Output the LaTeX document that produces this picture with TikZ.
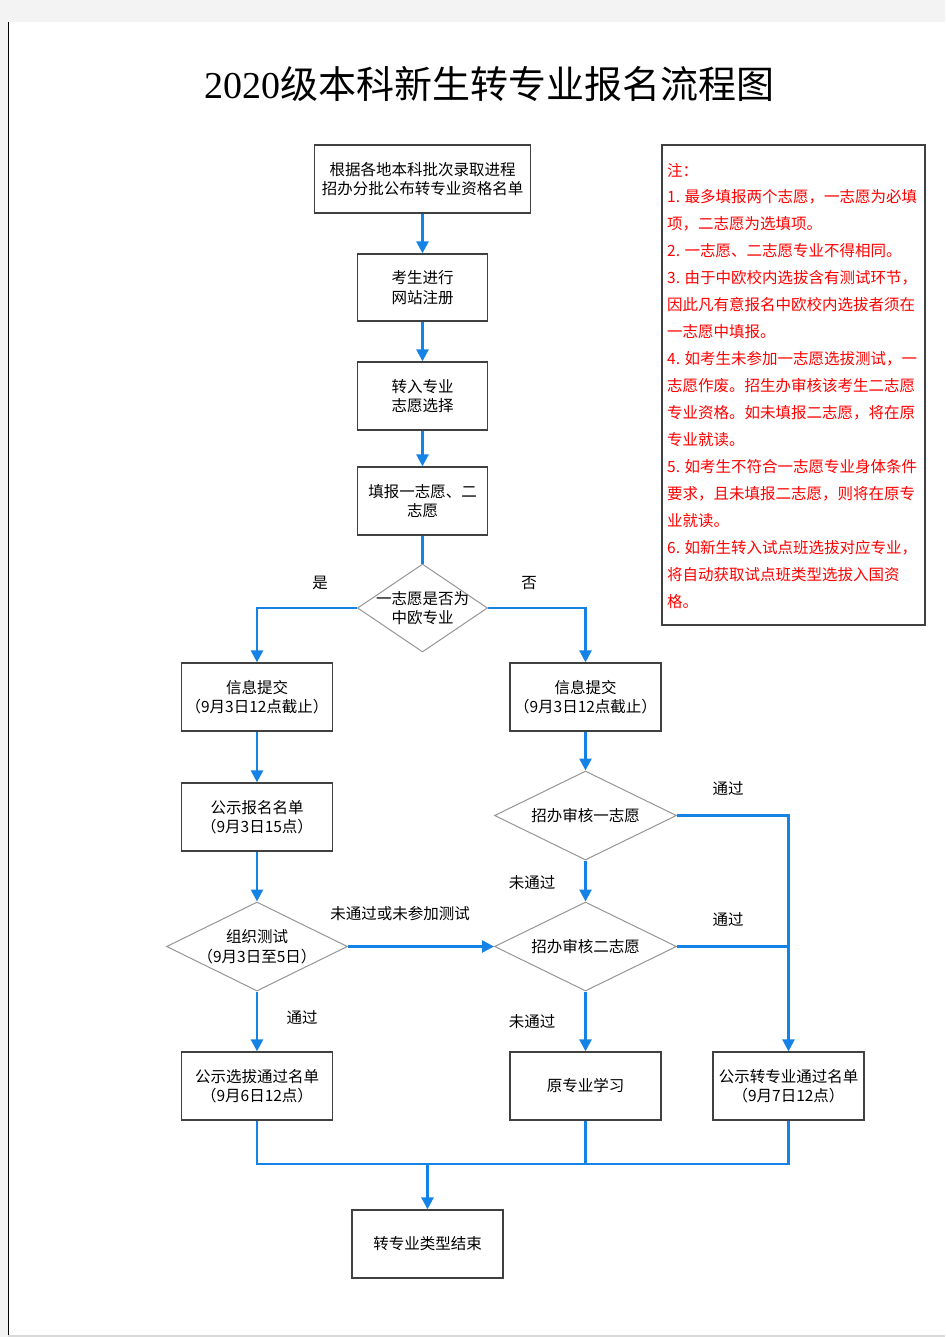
\documentclass[tikz,border=0pt]{standalone}
\usepackage{fontspec}
\newfontfamily\cjk{Noto Sans CJK SC}
\newfontfamily\titleserif{Liberation Serif}
\usetikzlibrary{arrows.meta,shapes.geometric}
\definecolor{flowblue}{RGB}{21,131,230}
\definecolor{boxline}{RGB}{64,64,64}
\definecolor{dialine}{RGB}{150,150,150}
\definecolor{pagegray}{RGB}{243,243,243}
\definecolor{notered}{RGB}{255,0,0}
\begin{document}
\begin{tikzpicture}[x=1pt,y=-1pt,
  box/.style={draw=boxline,line width=1.3pt,fill=white,inner sep=0pt,align=center,
    font=\cjk\fontsize{15.5}{19.5}\selectfont,minimum width=150pt,minimum height=68pt},
  dia/.style={draw=dialine,line width=1pt,shape=diamond,inner sep=0pt,fill=white},
  dtext/.style={align=center,inner sep=0pt,font=\cjk\fontsize{15.5}{19.5}\selectfont},
  arr/.style={draw=flowblue,line width=2.6pt,-{Triangle[length=12pt,width=12pt]}},
  lin/.style={draw=flowblue,line width=2.6pt},
  lbl/.style={inner sep=0pt,font=\cjk\fontsize{15.5}{19}\selectfont},
  notetext/.style={anchor=west,inner sep=0pt,text=notered,font=\cjk\fontsize{15.5}{19}\selectfont}
]
\useasboundingbox (0,0) rectangle (945,1337);
\fill[pagegray] (0,0) rectangle (945,1337);
\fill[white] (8,22) rectangle (945,1335);
\draw[black,line width=1.2pt] (8.5,22) -- (8.5,1337);
\draw[black!15,line width=1.5pt] (8,1336) -- (945,1336);

% title
\node[inner sep=0pt] (title) at (489,84) {\titleserif\fontsize{38}{42}\selectfont 2020\cjk 级本科新生转专业报名流程图};

% boxes
\node[box,minimum width=216pt] (A) at (422.5,179) {根据各地本科批次录取进程\\招办分批公布转专业资格名单};
\node[box,minimum width=130pt,minimum height=67pt] (B) at (422.5,287.5) {考生进行\\网站注册};
\node[box,minimum width=130pt] (C) at (422.5,396) {转入专业\\志愿选择};
\node[box,minimum width=130pt] (D) at (422.5,501) {填报一志愿、二\\志愿};
\node[dia,minimum width=130pt,minimum height=88pt,label={[dtext]center:一志愿是否为\\中欧专业}] (E) at (422.5,608) {};
\node[box,minimum width=151pt] (F) at (257,697) {信息提交\\（9月3日12点截止）};
\node[box,minimum width=151pt] (G) at (585.5,697) {信息提交\\（9月3日12点截止）};
\node[box,minimum width=151pt] (H) at (257,817) {公示报名名单\\（9月3日15点）};
\node[dia,minimum width=182pt,minimum height=89pt,label={[dtext]center:招办审核一志愿}] (I) at (585.5,815.5) {};
\node[dia,minimum width=182pt,minimum height=89pt,label={[dtext]center:招办审核二志愿}] (J) at (585.5,946.5) {};
\node[dia,minimum width=181pt,minimum height=89pt,label={[dtext]center:组织测试\\（9月3日至5日）}] (K) at (257,946.5) {};
\node[box,minimum width=151pt] (L) at (257,1086) {公示选拔通过名单\\（9月6日12点）};
\node[box,minimum width=151pt] (M) at (585.5,1086) {原专业学习};
\node[box,minimum width=151pt] (N) at (788.5,1086) {公示转专业通过名单\\（9月7日12点）};
\node[box,minimum width=151pt] (O) at (427.5,1244) {转专业类型结束};

% connectors
\draw[arr] (A) -- (B);
\draw[arr] (B) -- (C);
\draw[arr] (C) -- (D);
\draw[lin] (D) -- (E);
\draw[arr] (E.west) -| (F.north);
\draw[arr] (E.east) -| (G.north);
\draw[arr] (F) -- (H);
\draw[arr] (H) -- (K);
\draw[arr] (G) -- (I);
\draw[arr] (I) -- (J);
\draw[arr] (J) -- (M);
\draw[arr] (K) -- (L);
\draw[arr] (K.east) -- (J.west);
\draw[arr] (I.east) -| (N.north);
\draw[lin] (J.east) -- (J.east -| N.north);
\coordinate (bus) at (427.5,1164);
\draw[lin] (L.south) |- (bus);
\draw[lin] (N.south) |- (bus);
\draw[lin] (M.south) -- (M.south |- bus);
\draw[arr] (bus) -- (O.north);

% labels
\node[lbl] (yes) at (320,583) {是};
\node[lbl] (no) at (529,583) {否};
\node[lbl] (pass1) at (728,789) {通过};
\node[lbl] (pass2) at (728,920) {通过};
\node[lbl] (fail1) at (532,883) {未通过};
\node[lbl] (fail2) at (532,1022) {未通过};
\node[lbl] (failtest) at (400,914) {未通过或未参加测试};
\node[lbl] (passtest) at (302,1018) {通过};

% note box
\draw[boxline,line width=1.3pt,fill=white] (662,145) rectangle (925,625);
\node[notetext] (n0) at (667,170) {注：};
\node[notetext] (n1) at (667,196.5) {1. 最多填报两个志愿，一志愿为必填};
\node[notetext] (n2) at (667,223.5) {项，二志愿为选填项。};
\node[notetext] (n3) at (667,250.5) {2. 一志愿、二志愿专业不得相同。};
\node[notetext] (n4) at (667,278) {3. 由于中欧校内选拔含有测试环节，};
\node[notetext] (n5) at (667,305) {因此凡有意报名中欧校内选拔者须在};
\node[notetext] (n6) at (667,332) {一志愿中填报。};
\node[notetext] (n7) at (667,359) {4. 如考生未参加一志愿选拔测试，一};
\node[notetext] (n8) at (667,386) {志愿作废。招生办审核该考生二志愿};
\node[notetext] (n9) at (667,413) {专业资格。如未填报二志愿，将在原};
\node[notetext] (n10) at (667,440) {专业就读。};
\node[notetext] (n11) at (667,467) {5. 如考生不符合一志愿专业身体条件};
\node[notetext] (n12) at (667,494) {要求，且未填报二志愿，则将在原专};
\node[notetext] (n13) at (667,521) {业就读。};
\node[notetext] (n14) at (667,548) {6. 如新生转入试点班选拔对应专业，};
\node[notetext] (n15) at (667,575) {将自动获取试点班类型选拔入国资};
\node[notetext] (n16) at (667,602) {格。};
\end{tikzpicture}
\end{document}
